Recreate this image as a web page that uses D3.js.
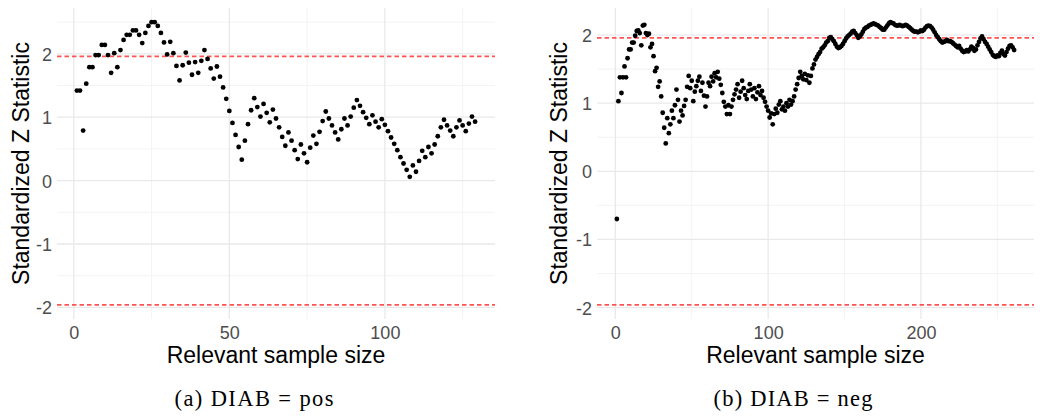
<!DOCTYPE html>
<html>
<head>
<meta charset="utf-8">
<script src="https://cdn.jsdelivr.net/npm/d3@7"></script>
<style>
  html, body { margin: 0; padding: 0; background: #fff; }
  svg { display: block; }
</style>
</head>
<body>
<svg id="chart" width="1040" height="417"></svg>
<script>
// ---------- DATA ----------
const posZ = [
  1.42,1.42,0.79,1.53,1.79,1.79,1.98,1.98,2.14,2.14,
  1.98,1.70,2.01,1.79,2.06,2.22,2.30,2.30,2.37,2.37,
  2.30,2.17,2.33,2.44,2.50,2.50,2.44,2.33,2.18,1.99,
  2.19,2.01,1.81,1.58,1.82,2.02,1.86,1.67,1.87,1.70,
  1.89,2.06,1.92,1.77,1.61,1.80,1.64,1.47,1.29,1.10,
  0.91,0.72,0.53,0.33,0.63,0.89,1.11,1.30,1.16,1.01,
  1.21,1.07,0.92,1.12,0.98,0.84,0.69,0.55,0.76,0.63,
  0.48,0.34,0.57,0.43,0.29,0.52,0.71,0.58,0.77,0.94,
  1.09,0.98,0.87,0.76,0.65,0.81,0.98,0.87,1.01,1.15,
  1.27,1.18,1.08,0.99,0.89,1.03,0.93,0.84,0.97,0.88,
  0.78,0.68,0.58,0.48,0.37,0.27,0.17,0.06,0.24,0.14,
  0.31,0.47,0.37,0.53,0.43,0.57,0.70,0.84,0.96,0.87,
  0.79,0.70,0.84,0.95,0.87,0.78,0.90,1.01,0.93
];

const negZ = [
  -0.70,1.03,1.38,1.15,1.38,1.54,1.38,1.66,1.79,1.79,
  1.89,1.89,1.99,2.06,2.07,2.03,1.85,2.14,2.15,2.03,
  2.00,2.02,1.82,1.87,1.69,1.47,1.52,1.24,1.32,1.10,
  0.86,0.64,0.41,0.78,0.56,0.69,0.89,0.78,0.97,1.20,
  1.05,0.73,0.89,0.82,0.96,1.05,1.24,1.40,1.22,1.33,
  1.03,1.17,1.25,1.33,1.39,1.18,1.30,1.11,0.95,1.10,
  1.30,1.25,1.39,1.32,1.44,1.38,1.46,1.36,1.27,1.15,
  1.02,0.95,0.84,0.97,0.84,0.95,1.05,1.13,1.20,1.28,
  1.08,1.17,1.33,1.22,1.12,1.06,1.18,1.28,1.20,1.10,
  1.22,1.06,1.16,1.25,1.12,1.18,1.08,1.02,0.95,0.89,
  0.79,0.85,0.69,0.84,0.92,0.86,0.98,1.03,0.91,0.95,
  0.89,1.00,0.95,1.05,0.98,1.03,1.10,1.20,1.28,1.37,
  1.46,1.40,1.35,1.43,1.34,1.41,1.30,1.40,1.51,1.57,
  1.64,1.68,1.72,1.75,1.80,1.82,1.85,1.89,1.91,1.96,
  1.97,1.94,1.91,1.87,1.83,1.81,1.82,1.84,1.87,1.91,
  1.95,1.98,2.00,2.02,2.05,2.06,2.03,2.00,1.96,1.98,
  2.01,2.05,2.09,2.11,2.12,2.14,2.15,2.16,2.17,2.16,
  2.15,2.14,2.12,2.10,2.08,2.08,2.11,2.14,2.17,2.19,
  2.18,2.17,2.15,2.14,2.14,2.15,2.14,2.13,2.14,2.15,
  2.14,2.12,2.10,2.08,2.06,2.05,2.05,2.04,2.05,2.07,
  2.06,2.08,2.11,2.13,2.14,2.13,2.11,2.08,2.04,2.00,
  1.97,1.94,1.91,1.89,1.90,1.91,1.93,1.91,1.91,1.90,
  1.88,1.86,1.84,1.82,1.84,1.80,1.77,1.75,1.76,1.78,
  1.76,1.79,1.83,1.81,1.77,1.79,1.85,1.90,1.95,1.98,
  1.94,1.90,1.87,1.83,1.79,1.75,1.71,1.69,1.68,1.70,
  1.69,1.74,1.77,1.72,1.70,1.75,1.80,1.84,1.85,1.82,
  1.78
];

const critical = [-1.96, 1.96];
const posXTicks = [0, 50, 100];
const posXMinor = [25, 75, 125];
const negXTicks = [0, 100, 200];
const negXMinor = [50, 150, 250];
const yTicks = [-2, -1, 0, 1, 2];
const yMinor = [-1.5, -0.5, 0.5, 1.5, 2.5];
const xTitle = "Relevant sample size";
const yTitle = "Standardized Z Statistic";
const captions = ["(a) DIAB = pos", "(b) DIAB = neg"];

// ---------- DRAW ----------
const svg = d3.select("#chart");
const SANS = "'Liberation Sans', Arial, Helvetica, sans-serif";
const fmt = d => String(d);   // ASCII hyphen-minus like the reference

function expand(lo, hi) {
  const d = (hi - lo) * 0.05;
  return [lo - d, hi + d];
}

function drawPanel(opt) {
  const values = opt.values;
  const pts = values.map((v, i) => ({ n: i + 1, z: v }));
  const xDom = expand(1, values.length);
  const yDom = expand(Math.min(d3.min(values), critical[0]), Math.max(d3.max(values), critical[1]));
  const x = d3.scaleLinear().domain(xDom).range([opt.left, opt.right]);
  const y = d3.scaleLinear().domain(yDom).range([opt.bottom, opt.top]);
  const g = svg.append("g");

  // minor grid
  g.selectAll(".ymin").data(yMinor.filter(v => v > yDom[0] && v < yDom[1])).enter().append("line")
    .attr("x1", opt.left).attr("x2", opt.right)
    .attr("y1", d => y(d)).attr("y2", d => y(d))
    .attr("stroke", "#f2f2f2").attr("stroke-width", 0.9);
  g.selectAll(".xmin").data(opt.xMinor.filter(v => v > xDom[0] && v < xDom[1])).enter().append("line")
    .attr("y1", opt.top).attr("y2", opt.bottom)
    .attr("x1", d => x(d)).attr("x2", d => x(d))
    .attr("stroke", "#f2f2f2").attr("stroke-width", 0.9);
  // major grid
  g.selectAll(".ymaj").data(yTicks).enter().append("line")
    .attr("x1", opt.left).attr("x2", opt.right)
    .attr("y1", d => y(d)).attr("y2", d => y(d))
    .attr("stroke", "#e9e9e9").attr("stroke-width", 1.3);
  g.selectAll(".xmaj").data(opt.xTicks).enter().append("line")
    .attr("y1", opt.top).attr("y2", opt.bottom)
    .attr("x1", d => x(d)).attr("x2", d => x(d))
    .attr("stroke", "#e9e9e9").attr("stroke-width", 1.3);

  // critical lines
  g.selectAll(".crit").data(critical).enter().append("line")
    .attr("x1", opt.left).attr("x2", opt.right)
    .attr("y1", d => y(d)).attr("y2", d => y(d))
    .attr("stroke", "#ff4040").attr("stroke-opacity", 0.9)
    .attr("stroke-width", 1.7).attr("stroke-dasharray", "4.5,3");

  // points
  g.selectAll(".pt").data(pts).enter().append("circle")
    .attr("cx", d => x(d.n)).attr("cy", d => y(d.z))
    .attr("r", 2.4).attr("fill", "#000");

  // axes (text only, like theme_minimal)
  const xAxis = d3.axisBottom(x).tickValues(opt.xTicks).tickSize(0).tickPadding(0).tickFormat(fmt);
  const xa = g.append("g").attr("transform", `translate(0,${opt.bottom})`).call(xAxis);
  xa.select(".domain").remove();
  xa.selectAll("text").attr("dy", null).attr("y", 20)
    .attr("font-family", SANS).attr("font-size", 18).attr("fill", "#4d4d4d");

  const yAxis = d3.axisLeft(y).tickValues(yTicks).tickSize(0).tickPadding(0).tickFormat(fmt);
  const ya = g.append("g").attr("transform", `translate(${opt.left - 5},0)`).call(yAxis);
  ya.select(".domain").remove();
  ya.selectAll("text").attr("dy", "0.36em").attr("x", 0)
    .attr("font-family", SANS).attr("font-size", 18).attr("fill", "#4d4d4d");

  // titles
  g.append("text").attr("x", (opt.left + opt.right) / 2).attr("y", 363)
    .attr("text-anchor", "middle").attr("font-family", SANS).attr("font-size", 23)
    .attr("fill", "#000").text(xTitle);
  g.append("text")
    .attr("transform", `translate(${opt.yTitleX},${(opt.top + opt.bottom) / 2}) rotate(-90)`)
    .attr("text-anchor", "middle").attr("font-family", SANS).attr("font-size", 23)
    .attr("fill", "#000").text(yTitle);

  // caption
  g.append("text").attr("x", opt.capX).attr("y", 406)
    .attr("text-anchor", "middle")
    .attr("font-family", "'Liberation Serif', 'Times New Roman', serif")
    .attr("font-size", 22.5).attr("fill", "#000")
    .attr("textLength", 159).attr("lengthAdjust", "spacing")
    .text(opt.caption);
}

drawPanel({ values: posZ, left: 57, right: 495, top: 8, bottom: 319,
  xTicks: posXTicks, xMinor: posXMinor, yTitleX: 28.5, capX: 254, caption: captions[0] });
drawPanel({ values: negZ, left: 597, right: 1034, top: 8, bottom: 319,
  xTicks: negXTicks, xMinor: negXMinor, yTitleX: 566.5, capX: 793, caption: captions[1] });
</script>
</body>
</html>
